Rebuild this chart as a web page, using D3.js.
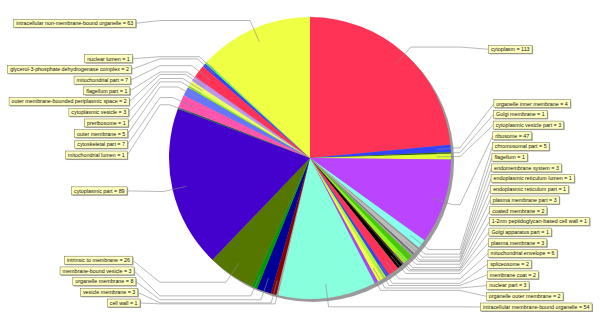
<!DOCTYPE html>
<html>
<head>
<meta charset="utf-8">
<script src="https://cdn.jsdelivr.net/npm/d3@7"></script>
<style>
  body { margin: 0; background: #fff; }
  svg { display: block; }
  .lbl text { font-family: "Liberation Sans", Arial, sans-serif; font-size: 5.35px; fill: #111; }
</style>
</head>
<body>
<div id="chart"></div>
<script>
// slice names, clockwise from 12 o'clock
var categories = [
  "cytoplasm", "organelle inner membrane", "Golgi membrane", "cytoplasmic vesicle part",
  "ribosome", "chromosomal part", "flagellum", "endomembrane system",
  "endoplasmic reticulum lumen", "endoplasmic reticulum part", "plasma membrane part",
  "coated membrane", "1-2nm peptidoglycan-based cell wall", "Golgi apparatus part",
  "plasma membrane", "mitochondrial envelope", "spliceosome", "membrane coat",
  "nuclear part", "organelle outer membrane", "intracellular membrane-bound organelle",
  "cell wall", "vesicle membrane", "organelle membrane", "membrane-bound vesicle",
  "intrinsic to membrane", "cytoplasmic part", "mitochondrial lumen", "cytoskeletal part",
  "outer membrane", "preribosome", "cytoplasmic vesicle",
  "outer membrane-bounded periplasmic space", "flagellum part", "mitochondrial part",
  "glycerol-3-phosphate dehydrogenase complex", "nuclear lumen",
  "intracellular non-membrane-bound organelle"
];
var counts = [
  113, 4, 1, 3,
  47, 5, 1, 3,
  1, 1, 3,
  2, 1, 1,
  3, 6, 2, 2,
  3, 2, 54,
  1, 3, 8, 3,
  26, 89, 1, 7,
  5, 1, 3,
  2, 1, 7,
  2, 1,
  63
];
var colors = [
  "#ff3355", "#3344ff", "#336600", "#ddff33",
  "#bb44ff", "#88ffee", "#999999", "#bbbbbb",
  "#666666", "#aaaaaa", "#44cc00",
  "#88ff22", "#ccee00", "#333333",
  "#000000", "#ff3355", "#3344ff", "#aaff33",
  "#eeff44", "#aa44ff", "#88ffdd",
  "#aaaaaa", "#880000", "#000099", "#009900",
  "#557700", "#4400cc", "#225555", "#ff55aa",
  "#6677ff", "#88ff00", "#eeff66",
  "#bb99ee", "#cc88ff", "#ff3355",
  "#3344ff", "#55ff55",
  "#eeff44"
];

var width = 600, height = 326;
var cx = 310, cy = 158, r = 141;
var linkR = 150, labelR = 147, lineH = 10.7;

var svg = d3.select("#chart").append("svg")
  .attr("width", width)
  .attr("height", height);

var data = categories.map(function (c, i) {
  return { name: c, value: counts[i], color: colors[i] };
});

var pie = d3.pie().sort(null).value(function (d) { return d.value; });
var arcs = pie(data);
var arc = d3.arc().innerRadius(0).outerRadius(r);

// shadow
svg.append("circle")
  .attr("cx", cx + 3).attr("cy", cy + 3).attr("r", r)
  .attr("fill", "#9a9a9a");

var g = svg.append("g").attr("transform", "translate(" + cx + "," + cy + ")");
g.selectAll("path")
  .data(arcs)
  .enter().append("path")
    .attr("d", arc)
    .attr("fill", function (d) { return d.data.color; });

// label records
var recs = arcs.map(function (d) {
  var a = (d.startAngle + d.endAngle) / 2;
  return {
    d: d,
    a: a,
    side: a < Math.PI ? "right" : "left",
    ny: cy - Math.cos(a) * labelR
  };
});

function distribute(list, minY, maxY) {
  list.sort(function (a, b) { return a.ny - b.ny; });
  var i;
  for (i = 0; i < list.length; i++) {
    list[i].y = i === 0 ? Math.max(list[i].ny, minY) : Math.max(list[i].ny, list[i - 1].y + lineH);
  }
  for (i = list.length - 1; i >= 0; i--) {
    list[i].y = i === list.length - 1 ? Math.min(list[i].y, maxY) : Math.min(list[i].y, list[i + 1].y - lineH);
  }
  for (i = 0; i < list.length; i++) {
    if (i === 0) list[i].y = Math.max(list[i].y, minY);
    else list[i].y = Math.max(list[i].y, list[i - 1].y + lineH);
  }
}

var leftRecs = recs.filter(function (d) { return d.side === "left"; });
var rightRecs = recs.filter(function (d) { return d.side === "right"; });
distribute(leftRecs, 14, 303);
distribute(rightRecs, 14, 307);

var links = svg.append("g").attr("fill", "none").attr("stroke", "#8a8a8a").attr("stroke-width", 0.6);
var labels = svg.append("g").attr("class", "lbl");

recs.forEach(function (rec) {
  var a = rec.a;
  var lx = cx + Math.sin(a) * r * 0.9, ly = cy - Math.cos(a) * r * 0.9;
  var ex = cx + Math.sin(a) * linkR, ey = cy - Math.cos(a) * linkR;
  var ax = rec.side === "left" ? cx - linkR : cx + linkR;
  var y = rec.y;

  var lg = labels.append("g");
  var t = lg.append("text")
    .attr("y", y)
    .attr("dy", "0.35em")
    .text(rec.d.data.name + " = " + rec.d.data.value);
  var tw = t.node().getComputedTextLength();
  var bw = tw + 5, bh = 8;
  var bx;
  if (rec.side === "left") {
    var dy = y - 180;
    var right = 127 + (dy > 0 ? 0.00086 : 0.00036) * dy * dy;
    bx = right - bw;
  } else {
    bx = y < 105 ? 494 - 0.1 * (105 - y) : 494 - 0.04 * (y - 105);
    bx = Math.min(bx, 592 - bw);
  }
  var tx = rec.side === "left" ? bx + bw : bx;

  links.append("polyline")
    .attr("points", [[lx, ly], [ex, ey], [ax, ey], [tx, y]].map(function (p) { return p.join(","); }).join(" "));

  lg.insert("rect", "text")
    .attr("x", bx + 1).attr("y", y - bh / 2 + 1)
    .attr("width", bw).attr("height", bh)
    .attr("fill", "#a8a8a8");
  lg.insert("rect", "text")
    .attr("x", bx).attr("y", y - bh / 2)
    .attr("width", bw).attr("height", bh)
    .attr("fill", "#ffffc0")
    .attr("stroke", "#6e6e50")
    .attr("stroke-width", 0.5);
  t.attr("x", bx + 2.5);
});
</script>
</body>
</html>
